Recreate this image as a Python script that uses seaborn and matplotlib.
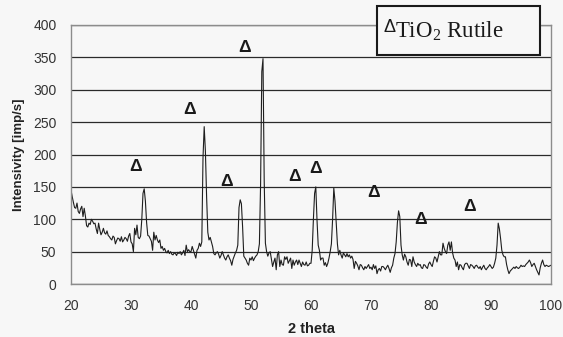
import numpy as np
import pandas as pd
import matplotlib
matplotlib.use("Agg")
import matplotlib.pyplot as plt
from matplotlib.patches import Rectangle
import seaborn as sns

# Diffraction scan: 2 theta from 20 to 100 deg in 0.2 deg steps
theta_start, theta_stop, theta_step = 20.0, 100.0, 0.2
intensity = [
    145, 135, 126, 118, 117, 125, 112, 109, 116, 120,   # 20.0 - 21.8
    104, 117, 105, 90, 88, 94, 92, 100, 97, 93,         # 22.0 - 23.8
    94, 85, 78, 94, 84, 76, 80, 86, 79, 77,             # 24.0 - 25.8
    82, 75, 73, 70, 68, 74, 72, 62, 67, 71,             # 26.0 - 27.8
    70, 66, 73, 65, 68, 72, 70, 66, 74, 78,             # 28.0 - 29.8
    65, 62, 50, 86, 76, 91, 72, 70, 74, 100,            # 30.0 - 31.8
    140, 147, 128, 95, 75, 74, 70, 66, 52, 80,          # 32.0 - 33.8
    68, 75, 68, 64, 68, 55, 58, 52, 55, 50,             # 34.0 - 35.8
    48, 52, 47, 50, 46, 45, 48, 47, 44, 49,             # 36.0 - 37.8
    47, 50, 45, 48, 52, 44, 60, 50, 53, 50,             # 38.0 - 39.8
    50, 58, 52, 46, 40, 52, 55, 63, 58, 65,             # 40.0 - 41.8
    195, 243, 205, 135, 80, 68, 72, 65, 58, 47,         # 42.0 - 43.8
    45, 48, 50, 46, 40, 44, 50, 45, 40, 37,             # 44.0 - 45.8
    42, 45, 40, 36, 29, 38, 43, 48, 52, 60,             # 46.0 - 47.8
    118, 130, 124, 88, 43, 40, 37, 32, 29, 40,          # 48.0 - 49.8
    37, 42, 36, 40, 43, 45, 50, 62, 155, 328,           # 50.0 - 51.8
    348, 160, 63, 50, 43, 48, 50, 38, 27, 34,           # 52.0 - 53.8
    40, 22, 45, 50, 27, 37, 30, 29, 42, 38,             # 54.0 - 55.8
    42, 32, 36, 40, 24, 37, 29, 34, 37, 30,             # 56.0 - 57.8
    37, 32, 27, 34, 30, 29, 34, 28, 29, 32,             # 58.0 - 59.8
    32, 52, 100, 140, 150, 99, 60, 52, 37, 40,          # 60.0 - 61.8
    40, 29, 33, 27, 32, 40, 50, 62, 100, 148,           # 62.0 - 63.8
    128, 94, 62, 45, 52, 45, 40, 48, 45, 42,            # 64.0 - 65.8
    47, 42, 45, 40, 43, 38, 24, 35, 32, 28,             # 66.0 - 67.8
    22, 30, 29, 25, 22, 27, 24, 27, 30, 24,             # 68.0 - 69.8
    26, 22, 30, 24, 28, 16, 22, 24, 20, 27,             # 70.0 - 71.8
    27, 25, 22, 26, 29, 24, 18, 25, 29, 40,             # 72.0 - 73.8
    47, 65, 95, 113, 104, 60, 45, 37, 46, 42,           # 74.0 - 75.8
    34, 29, 38, 37, 27, 42, 34, 30, 27, 32,             # 76.0 - 77.8
    29, 30, 25, 24, 30, 29, 26, 24, 31, 34,             # 78.0 - 79.8
    30, 27, 35, 42, 40, 34, 42, 50, 45, 45,             # 80.0 - 81.8
    63, 55, 50, 47, 60, 65, 52, 65, 48, 40,             # 82.0 - 83.8
    37, 27, 34, 22, 30, 29, 25, 22, 30, 32,             # 84.0 - 85.8
    32, 28, 24, 30, 29, 27, 24, 28, 29, 26,             # 86.0 - 87.8
    24, 27, 22, 26, 29, 24, 22, 25, 27, 30,             # 88.0 - 89.8
    27, 24, 26, 32, 40, 60, 94, 85, 70, 52,             # 90.0 - 91.8
    45, 42, 42, 30, 22, 16, 20, 22, 24, 26,             # 92.0 - 93.8
    24, 27, 25, 24, 26, 29, 27, 28, 27, 30,             # 94.0 - 95.8
    32, 34, 37, 33, 27, 30, 32, 27, 22, 18,             # 96.0 - 97.8
    14, 25, 32, 37, 30, 27, 29, 28, 27, 28,             # 98.0 - 99.8
    29,                                                 # 100.0
]
two_theta = np.round(np.arange(len(intensity)) * theta_step + theta_start, 1)

# Rutile reflections marked above the pattern
rutile_2theta = [30.7, 39.8, 49.0, 45.9, 57.2, 60.7, 70.4, 78.2, 86.5]
rutile_mark_y = [181, 270, 366, 158, 166, 178, 141, 99, 119]

x_ticks = [20, 30, 40, 50, 60, 70, 80, 90, 100]
y_ticks = [0, 50, 100, 150, 200, 250, 300, 350, 400]

df = pd.DataFrame({"two_theta": two_theta, "intensity": intensity})

sns.set_theme(style="white")
bg = "#f7f7f7"
plt.rcParams["font.family"] = ["Liberation Sans", "DejaVu Sans"]
plt.rcParams["mathtext.fontset"] = "custom"
plt.rcParams["mathtext.rm"] = "Liberation Serif"

fig = plt.figure(figsize=(5.63, 3.37), dpi=100, facecolor=bg)
ax = fig.add_axes([71 / 563, 1 - 284 / 337, 480 / 563, 259 / 337])
ax.set_facecolor(bg)

sns.lineplot(data=df, x="two_theta", y="intensity", ax=ax,
             color="#1e1e1e", linewidth=0.8, zorder=3)

ax.set_xlim(20, 100)
ax.set_ylim(0, 400)
ax.set_xticks(x_ticks)
ax.set_yticks(y_ticks)
ax.yaxis.grid(True, color="#2a2a2a", linewidth=0.9)
ax.xaxis.grid(False)
ax.set_axisbelow(True)

for side in ["left", "right", "top", "bottom"]:
    ax.spines[side].set_visible(True)
    ax.spines[side].set_color("#8c8c8c")
    ax.spines[side].set_linewidth(1.0)
    ax.spines[side].set_zorder(4)

ax.tick_params(axis="both", which="major", direction="out", length=4.5,
               width=0.9, color="#8c8c8c", labelsize=10, labelcolor="#333333")
ax.tick_params(axis="x", pad=6.5)
ax.tick_params(axis="y", pad=6)

ax.set_xlabel("2 theta", fontsize=10.5, fontweight="bold", color="#222222", labelpad=6)
ax.set_ylabel("Intensivity [imp/s]", fontsize=9.5, fontweight="bold", color="#222222",
              labelpad=6)

for tx, ty in zip(rutile_2theta, rutile_mark_y):
    ax.text(tx, ty, "Δ", ha="center", va="center", fontsize=12.5,
            fontweight="bold", color="#1a1a1a", zorder=5)

# Phase key box
box = Rectangle((377 / 563, 1 - 55 / 337), 163 / 563, 49 / 337,
                transform=fig.transFigure, facecolor=bg, edgecolor="#1a1a1a",
                linewidth=1.5, zorder=10)
fig.add_artist(box)
fig.text(383 / 563, 1 - 27 / 337, "Δ", ha="left", va="center", fontsize=13,
         color="#1a1a1a", zorder=11)
fig.text(395 / 563, 1 - 37 / 337, r"TiO$_2$ Rutile", ha="left", va="baseline",
         fontsize=16.5, family="Liberation Serif", color="#1a1a1a", zorder=11)

fig.savefig("out.png", dpi=100, facecolor=bg)
